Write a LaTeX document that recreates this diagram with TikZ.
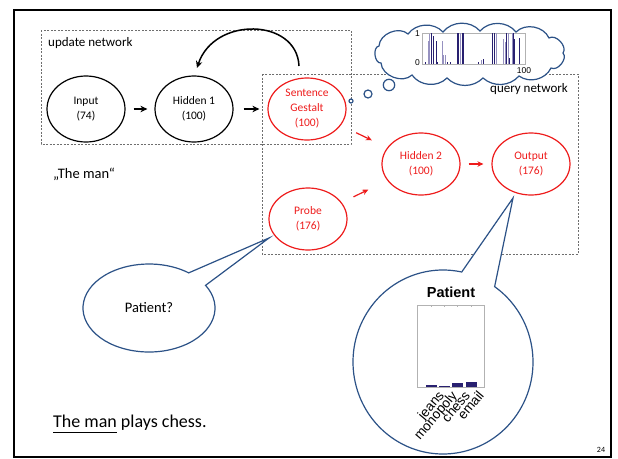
\documentclass[tikz,border=0pt]{standalone}
\usepackage{fontspec}
\setmainfont{Carlito}
\newfontfamily\arialfont{Liberation Sans}
\usetikzlibrary{shapes.geometric,arrows.meta,calc}
\definecolor{netred}{RGB}{238,28,28}
\definecolor{bubbleblue}{RGB}{44,82,135}
\definecolor{bardark}{RGB}{40,32,112}
\definecolor{barlight}{RGB}{150,145,192}
\definecolor{boxgray}{RGB}{110,110,110}
\begin{document}
\begin{tikzpicture}[x=1pt,y=-1pt,
  unit/.style={ellipse, draw, line width=1.2pt, minimum width=78pt, minimum height=66pt,
    inner sep=0pt, align=center, fill=white, font=\fontsize{11.5}{15.5}\selectfont},
  qunit/.style={unit, draw=netred, text=netred, minimum height=62pt},
  netbox/.style={draw=boxgray, dash pattern=on 2pt off 1.5pt, line width=0.6pt},
  blk/.style={-{Stealth[length=7pt,width=6.5pt]}, line width=1.5pt},
  redarrow/.style={-{Stealth[length=6pt,width=5.5pt]}, line width=1.2pt, draw=netred},
  bubble/.style={draw=bubbleblue, line width=1.2pt, fill=white},
  lbl/.style={font=\fontsize{13}{13}\selectfont, inner sep=0pt},
  bar/.style={line width=1.1pt},
]
\useasboundingbox (0,0) rectangle (618,458);
\fill[white] (0,0) rectangle (618,458);
% slide frame
\draw[line width=2pt] (14,10) rectangle (611,457);

% network boxes
\draw[netbox] (41,30) rectangle (351,144);
\draw[netbox] (262,74) rectangle (578,254);
\node[lbl, anchor=base west] (updlabel) at (48,46) {update network};
\node[lbl, anchor=base east] (qlabel) at (568,92) {query network};

% units
\node[unit] (input) at (86,109) {Input\\(74)};
\node[unit] (hid1) at (194,109) {Hidden 1\\(100)};
\node[qunit, font=\fontsize{11.5}{15}\selectfont] (sg) at (307,109) {Sentence\\Gestalt\\(100)};
\node[qunit] (hid2) at (421,164) {Hidden 2\\(100)};
\node[qunit] (out) at (531,164) {Output\\(176)};
\node[qunit] (probe) at (308,219) {Probe\\(176)};

% update network connections
\draw[blk, shorten <=8pt, shorten >=7pt] (input) -- (hid1);
\draw[blk, shorten <=10pt, shorten >=8pt] (hid1) -- (sg);
\coordinate (loopS) at (299,66);
\coordinate (loopE) at (197,68);
\draw[blk] (loopS) .. controls (297,18) and (214,16) .. (loopE);

% query network connections
\draw[redarrow, shorten <=17pt, shorten >=17pt] (sg) -- (hid2);
\draw[redarrow, shorten <=13pt, shorten >=21pt] (probe) -- (hid2);
\draw[redarrow, shorten <=8pt, shorten >=8pt] (hid2) -- (out);

% thought cloud with the gestalt activation plot
\draw[bubble] (351,101) circle[radius=2];
\draw[bubble] (368,94) circle[radius=4];
\draw[bubble] (389,85) circle[radius=5.7];
\draw[bubble] (379,46) to[bend left=65] (408,34) to[bend left=50] (443,32)
  to[bend left=50] (480,31) to[bend left=50] (516,32) to[bend left=55] (549,38)
  to[bend left=80] (563,53) to[bend left=80] (551,68) to[bend left=50] (519,76)
  to[bend left=45] (483,78) to[bend left=45] (447,78) to[bend left=50] (412,75)
  to[bend left=65] (381,63) to[bend left=90] cycle;
\draw[gray!60, line width=0.4pt] (422,33) rectangle (525,64);
\foreach \i/\h in {6/0.74, 7/0.97, 20/0.74, 21/0.28, 23/0.28, 38/1.0, 58/0.12,
    73/1.0, 80/0.8, 82/0.7, 85/1.0, 89/1.0}
  \draw[bar, barlight] ({422+\i*1.02},64) -- ++(0,{-\h*31});
\foreach \i/\h in {3/0.05, 9/1.0, 11/0.9, 14/0.74, 15/0.05, 25/0.08, 28/0.08,
    35/1.0, 36/1.0, 40/1.0, 41/1.0, 55/0.05, 60/0.15, 69/1.0, 71/1.0, 83/1.0,
    86/0.2, 90/1.0, 91/0.8, 96/0.85}
  \draw[bar, bardark] ({422+\i*1.02},64) -- ++(0,{-\h*31});
\node[font=\arialfont\fontsize{8.5}{8.5}\selectfont, anchor=east, inner sep=1pt] (ymax) at (421,34) {1};
\node[font=\arialfont\fontsize{8.5}{8.5}\selectfont, anchor=east, inner sep=1pt] (ymin) at (421,63) {0};
\node[font=\arialfont\fontsize{8.5}{8.5}\selectfont, inner sep=1pt] (xmax) at (524,71) {100};

% left text
\node[font=\fontsize{14.5}{14.5}\selectfont, anchor=base west, inner sep=0pt] (phrase) at (53,178) {„The man“};
\node[font=\fontsize{18}{18}\selectfont, anchor=base west, inner sep=0pt] (sent) at (53,427) {The man plays chess.};
\node[font=\fontsize{18}{18}\selectfont, anchor=base west, inner sep=0pt] (subj) at (53,427) {\phantom{The man}};
\draw[line width=1.8pt] ([yshift=-5.5pt]subj.base west) -- ([yshift=-5.5pt]subj.base east);
\node[font=\fontsize{8}{8}\selectfont] (pagenum) at (601,450) {24};

% question bubble from the probe
\coordinate (askC) at (149,308);
\coordinate (askTip) at (269,238);
\draw[bubble] (askC) ++(-31:66 and 44) arc[start angle=-31, end angle=307, x radius=66, y radius=44] -- (askTip) -- cycle;
\node[font=\fontsize{14.5}{14.5}\selectfont] (ask) at (149,308) {Patient?};

% answer bubble from the output
\coordinate (ansC) at (443,362);
\coordinate (ansTip) at (513,198);
\draw[bubble] (ansC) ++(-55:90 and 92) arc[start angle=-55, end angle=282, x radius=90, y radius=92] -- (ansTip) -- cycle;
\node[font=\arialfont\bfseries\fontsize{14.5}{14.5}\selectfont] (anstitle) at (451,292) {Patient};
\draw[gray!60, line width=0.5pt] (417,305) rectangle (484,387);
\foreach \x/\h/\w in {431/2/jeans, 444/1.3/monopoly, 457/3.6/chess, 471/5/email} {
  \fill[bardark] ({\x-5.5},387) rectangle ({\x+5.5},{387-\h});
  \draw[gray!60, line width=0.4pt] (\x,305) -- (\x,307);
  \node[font=\arialfont\fontsize{13.5}{13.5}\selectfont, rotate=50, anchor=north east, inner sep=1pt] at ({\x+6},388) {\w};
}
\end{tikzpicture}
\end{document}
